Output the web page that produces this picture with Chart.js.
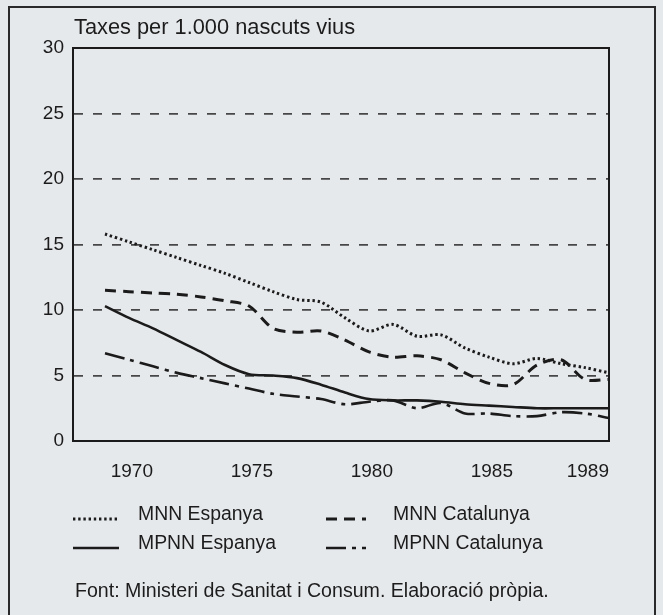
<!DOCTYPE html>
<html><head><meta charset="utf-8">
<script src="https://cdn.jsdelivr.net/npm/chart.js@4"></script>
<style>
html,body{margin:0;padding:0;background:#e6e9ec;}
#wrap{position:relative;width:663px;height:615px;overflow:hidden;font-family:"Liberation Sans",Arial,sans-serif;color:#1c1c1c;}
#frame{position:absolute;left:8px;top:6px;width:648px;height:660px;border:2px solid #2a2a2a;box-sizing:border-box;}
#c{position:absolute;left:0;top:0;}
.t{position:absolute;white-space:nowrap;line-height:1;}
.s{position:absolute;}
</style></head>
<body><div id="wrap"><div id="frame"></div><canvas id="c" width="663" height="615"></canvas>
<div class="t" id="title" style="left:74px;top:16px;font-size:21.8px">Taxes per 1.000 nascuts vius</div>
<div id="legend"></div>
<div class="t" id="src" style="left:75px;top:581px;font-size:19.6px">Font: Ministeri de Sanitat i Consum. Elaboració pròpia.</div>
</div>
<script>
// ---- data ----
const years = [1968,1969,1970,1971,1972,1973,1974,1975,1976,1977,1978,1979,1980,1981,1982,1983,1984,1985,1986,1987,1988,1989];
const mnnEspanya    = [15.8,15.2,14.6,14.0,13.4,12.8,12.1,11.4,10.8,10.6,9.4,8.4,8.9,8.0,8.1,7.1,6.4,5.9,6.3,5.9,5.6,5.2];
const mnnCatalunya  = [11.5,11.4,11.3,11.2,11.0,10.7,10.3,8.6,8.3,8.4,7.7,6.8,6.4,6.5,6.2,5.2,4.4,4.3,5.8,6.2,4.7,4.7];
const mpnnEspanya   = [10.3,9.4,8.6,7.7,6.8,5.8,5.1,5.0,4.8,4.3,3.7,3.2,3.1,3.1,3.0,2.8,2.7,2.6,2.5,2.5,2.5,2.5];
const mpnnCatalunya = [6.7,6.2,5.7,5.2,4.8,4.4,4.0,3.6,3.4,3.2,2.8,3.0,3.1,2.5,2.9,2.1,2.1,1.9,1.9,2.2,2.1,1.75];
const seriesNames = ['MNN Espanya','MNN Catalunya','MPNN Espanya','MPNN Catalunya'];
const xTickYears = [1970,1975,1980,1985,1989];
const yTicks = [0,5,10,15,20,25,30];

// ---- styles ----
const ink = '#1b1b1b';
const styles = [
  {dash:[2.4,2.8], width:3},
  {dash:[11,7], width:3},
  {dash:[], width:2.6},
  {dash:[20,6,4,6], width:2.6}
];
const seriesData = [mnnEspanya, mnnCatalunya, mpnnEspanya, mpnnCatalunya];
const FONT = '"Liberation Sans", Arial, sans-serif';

const datasets = seriesData.map((arr,i)=>({
  label: seriesNames[i],
  data: arr.map((v,j)=>({x:years[j], y:v})),
  borderColor: ink,
  borderWidth: styles[i].width,
  borderDash: styles[i].dash,
  borderCapStyle: 'butt',
  pointRadius: 0,
  tension: 0.3,
  fill: false
}));

const framePlugin = {
  id:'frame',
  afterDatasetsDraw(chart){
    const a = chart.chartArea, ctx = chart.ctx;
    ctx.save();
    ctx.strokeStyle = ink; ctx.lineWidth = 2;
    ctx.strokeRect(a.left, a.top, a.right-a.left, a.bottom-a.top);
    ctx.restore();
  }
};

new Chart(document.getElementById('c'), {
  type:'line',
  data:{datasets},
  plugins:[framePlugin],
  options:{
    responsive:false,
    animation:false,
    layout:{padding:{left:0,right:54,top:48,bottom:134}},
    plugins:{legend:{display:false}, title:{display:false}, tooltip:{enabled:false}},
    scales:{
      x:{
        type:'linear', min:1966.667, max:1989,
        afterBuildTicks(s){ s.ticks = xTickYears.map(v=>({value:v})); },
        afterFit(s){ s.height = 40; },
        grid:{display:false, drawTicks:false},
        border:{display:true, color:ink, width:2},
        ticks:{align:'end', padding:19, color:ink, font:{family:FONT, size:19}, callback:v=>String(v), maxRotation:0, autoSkip:false}
      },
      y:{
        min:0, max:30,
        afterBuildTicks(s){ s.ticks = yTicks.map(v=>({value:v})); },
        afterFit(s){ s.width = 73; },
        grid:{drawTicks:false, lineWidth:1.8, color:c=> (c.tick && (c.tick.value===0||c.tick.value===30)) ? 'rgba(0,0,0,0)' : '#474747'},
        border:{display:true, color:ink, width:2, dash:[9,10]},
        ticks:{padding:9, color:ink, font:{family:FONT, size:19}}
      }
    }
  }
});

// ---- HTML legend built from the datasets ----
const legendCols = [{sx:73, sw:46, tx:138},{sx:326, sw:40, tx:393}];
const legendRows = [504, 533];
const order = [0,1,2,3];
const leg = document.getElementById('legend');
order.forEach((di,k)=>{
  const col = legendCols[k%2], rowTop = legendRows[Math.floor(k/2)];
  const st = styles[di];
  const svgNS='http://www.w3.org/2000/svg';
  const svg=document.createElementNS(svgNS,'svg');
  svg.setAttribute('width', col.sw); svg.setAttribute('height', 6);
  svg.setAttribute('class','s');
  svg.style.left = col.sx+'px'; svg.style.top = (rowTop+15-3)+'px';
  const ln=document.createElementNS(svgNS,'line');
  ln.setAttribute('x1',0); ln.setAttribute('x2',col.sw); ln.setAttribute('y1',3); ln.setAttribute('y2',3);
  ln.setAttribute('stroke',ink); ln.setAttribute('stroke-width',st.width);
  if(st.dash.length) ln.setAttribute('stroke-dasharray', st.dash.join(' '));
  svg.appendChild(ln); leg.appendChild(svg);
  const t=document.createElement('div'); t.className='t';
  t.style.left=col.tx+'px'; t.style.top=rowTop+'px'; t.style.fontSize='19.4px';
  t.textContent = seriesNames[di];
  leg.appendChild(t);
});
</script>
</body></html>
